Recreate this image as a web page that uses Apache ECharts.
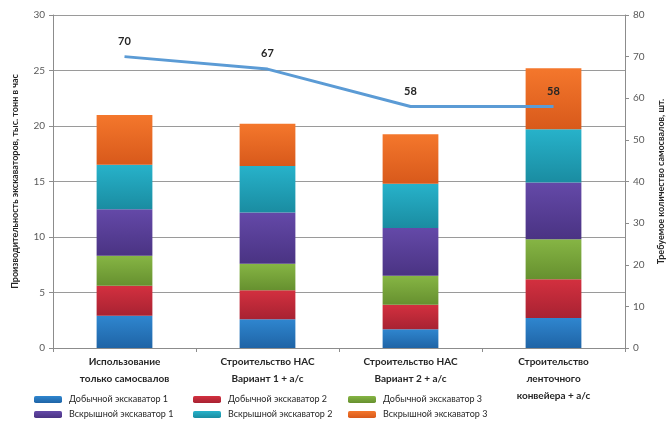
<!DOCTYPE html>
<html lang="ru">
<head>
<meta charset="utf-8">
<title>Производительность экскаваторов</title>
<script src="https://cdn.jsdelivr.net/npm/echarts@6/dist/echarts.min.js"></script>
<style>
  html, body { margin: 0; padding: 0; background: #fff; }
  #main { width: 667px; height: 435px; }
</style>
</head>
<body>
<div id="main"></div>
<script type="text/javascript">
  // categories
  let categories = [
    'Использование\nтолько самосвалов',
    'Строительство НАС\nВариант 1 + а/с',
    'Строительство НАС\nВариант 2 + а/с',
    'Строительство\nленточного\nконвейера + а/с'
  ];

  // stacked bars, тыс. тонн в час
  let dobEx1 = [2.9, 2.6, 1.7, 2.7];
  let dobEx2 = [2.7, 2.6, 2.2, 3.5];
  let dobEx3 = [2.7, 2.4, 2.6, 3.6];
  let vskEx1 = [4.2, 4.6, 4.3, 5.1];
  let vskEx2 = [4.0, 4.2, 4.0, 4.8];
  let vskEx3 = [4.5, 3.8, 4.45, 5.5];

  // line, шт.
  let trucks = [70, 67, 58, 58];

  let seriesNames = ['Добычной экскаватор 1', 'Добычной экскаватор 2', 'Добычной экскаватор 3',
                     'Вскрышной экскаватор 1', 'Вскрышной экскаватор 2', 'Вскрышной экскаватор 3'];
  let seriesData = [dobEx1, dobEx2, dobEx3, vskEx1, vskEx2, vskEx3];
  // [top, bottom]
  let colors = [
    ['#2f86cf', '#1f64a6'],
    ['#d3303f', '#a82232'],
    ['#86b544', '#66902f'],
    ['#6449a8', '#4a3383'],
    ['#27b2ca', '#1a8ca1'],
    ['#f4772c', '#d8591b']
  ];

  const font = 'Lato, "Open Sans", sans-serif';

  let barSeries = [];
  seriesNames.forEach((name, i) => {
    barSeries.push({
      name: name,
      type: 'bar',
      stack: 'total',
      barWidth: '39%',
      data: seriesData[i],
      itemStyle: {
        color: new echarts.graphic.LinearGradient(0, 0, 0, 1, [
          { offset: 0, color: colors[i][0] },
          { offset: 1, color: colors[i][1] }
        ])
      }
    });
  });

  barSeries.push({
    name: 'Самосвалы',
    type: 'line',
    yAxisIndex: 1,
    data: trucks,
    symbol: 'circle',
    symbolSize: 0,
    lineStyle: { color: '#5b9bd5', width: 3 },
    itemStyle: { color: '#5b9bd5' },
    label: {
      show: true,
      position: 'top',
      distance: 10,
      fontFamily: font,
      fontWeight: 'bold',
      fontSize: 11,
      color: '#262626'
    },
    z: 5
  });

  // legend slots: 3 columns x 2 rows
  let legendLeft = [34, 193, 348];
  let legendTop = [395, 410];
  let legends = [];
  seriesNames.forEach((name, i) => {
    legends.push({
      data: [name],
      left: legendLeft[i % 3],
      top: legendTop[Math.floor(i / 3)],
      itemWidth: 28,
      itemHeight: 7,
      itemGap: 0,
      padding: 0,
      selectedMode: false,
      textStyle: { fontFamily: font, fontSize: 9, color: '#262626', padding: [0, 0, 0, 2] }
    });
  });

  let chart = echarts.init(document.getElementById('main'));

  let option = {
    animation: false,
    backgroundColor: '#fff',
    legend: legends,
    grid: { left: 53, right: 42, top: 15, bottom: 87, outerBoundsMode: 'none', containLabel: false },
    xAxis: {
      type: 'category',
      data: categories,
      axisLine: { lineStyle: { color: '#8c8c8c' } },
      axisTick: { show: true, length: 4, lineStyle: { color: '#8c8c8c' } },
      axisLabel: {
        fontFamily: font,
        fontWeight: 'bold',
        fontSize: 10,
        color: '#262626',
        lineHeight: 17,
        margin: 5
      }
    },
    yAxis: [
      {
        type: 'value',
        min: 0, max: 30, interval: 5,
        name: 'Производительность экскаваторов, тыс. тонн в час',
        nameLocation: 'middle',
        nameGap: 33,
        nameTextStyle: { fontFamily: font, fontWeight: 'bold', fontSize: 9, color: '#262626' },
        axisLine: { show: true, lineStyle: { color: '#8c8c8c' } },
        axisTick: { show: true, length: 4, lineStyle: { color: '#8c8c8c' } },
        axisLabel: { fontFamily: font, fontSize: 10, color: '#595959', margin: 8 },
        splitLine: { lineStyle: { color: '#9a9a9a', width: 1 } }
      },
      {
        type: 'value',
        min: 0, max: 80, interval: 10,
        name: 'Требуемое количество самосвалов, шт.',
        nameLocation: 'middle',
        nameGap: 32,
        nameTextStyle: { fontFamily: font, fontWeight: 'bold', fontSize: 9, color: '#262626' },
        axisLine: { show: true, lineStyle: { color: '#8c8c8c' } },
        axisTick: { show: true, length: 4, lineStyle: { color: '#8c8c8c' } },
        axisLabel: { fontFamily: font, fontSize: 10, color: '#595959', margin: 8 },
        splitLine: { show: false }
      }
    ],
    series: barSeries
  };

  chart.setOption(option);
</script>
</body>
</html>
